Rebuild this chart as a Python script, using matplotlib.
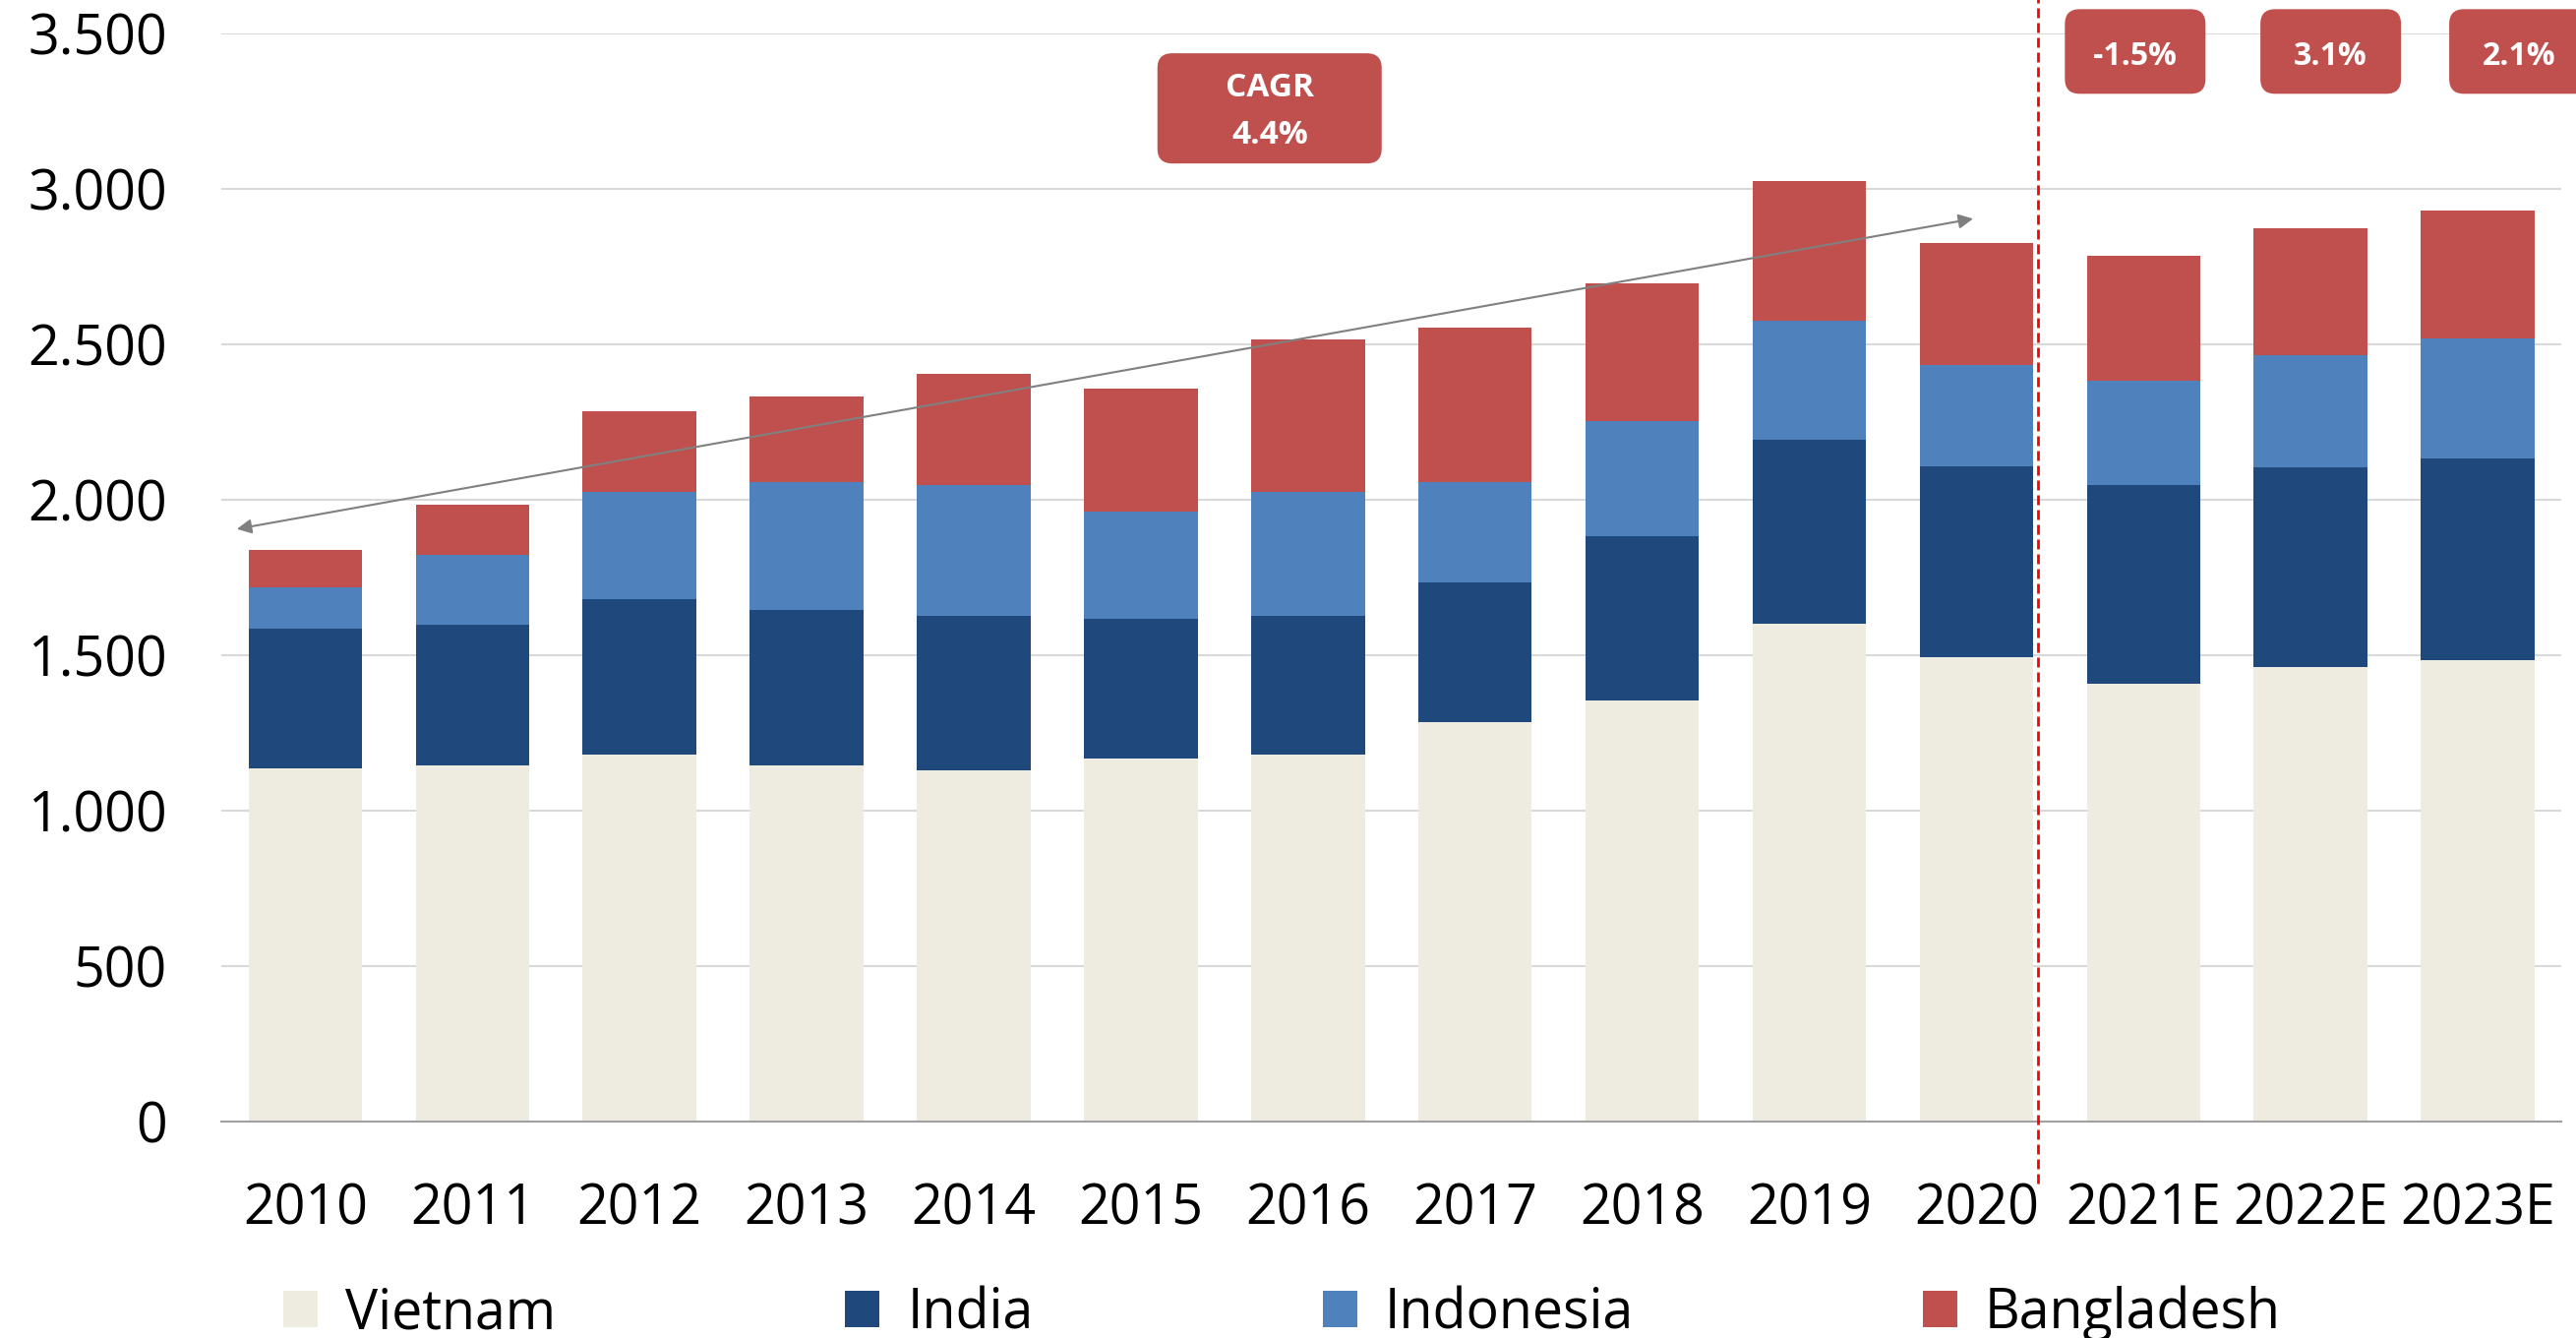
import numpy as np
import matplotlib
matplotlib.use('Agg')
import matplotlib.pyplot as plt
from matplotlib.patches import FancyBboxPatch
from matplotlib.ticker import FuncFormatter, MultipleLocator

plt.rcParams['font.family'] = ['Open Sans', 'DejaVu Sans']

# data
years = ['2010', '2011', '2012', '2013', '2014', '2015', '2016',
         '2017', '2018', '2019', '2020', '2021E', '2022E', '2023E']
vietnam = [1137, 1147, 1179, 1147, 1131, 1168, 1179, 1285, 1353, 1602, 1493, 1408, 1461, 1484]
india = [449, 450, 502, 497, 497, 450, 449, 449, 529, 592, 613, 638, 644, 648]
indonesia = [132, 227, 344, 413, 418, 343, 397, 323, 370, 381, 327, 338, 360, 387]
bangladesh = [122, 159, 259, 275, 360, 397, 492, 497, 444, 449, 393, 400, 407, 412]
growth_labels = ['-1.5%', '3.1%', '2.1%']
cagr_label = 'CAGR\n4.4%'

series = [('Vietnam', vietnam, '#EEECE1'),
          ('India', india, '#1F497D'),
          ('Indonesia', indonesia, '#4F81BD'),
          ('Bangladesh', bangladesh, '#C0504D')]
RED = '#C0504D'


def label_box(fig, ax, x, y, w, h, text, fs, ls=1.2, dy=0):
    # rounded box sized in inches, centred on a data point
    cx, cy = ax.transData.transform((x, y)) / fig.dpi
    box = FancyBboxPatch((cx - w / 2, cy - h / 2), w, h,
                         boxstyle='round,pad=0,rounding_size=0.15',
                         transform=fig.dpi_scale_trans, fc=RED, ec='none',
                         clip_on=False, zorder=5)
    ax.add_artist(box)
    ax.text(x, y + dy, text, ha='center', va='center', color='white', fontsize=fs,
            fontweight='bold', linespacing=ls, zorder=6, clip_on=False)


fig = plt.figure(figsize=(26.19, 13.60), dpi=100)
ax = fig.add_axes([0.0861, 0.1618, 0.9082, 0.8132])

xpos = np.arange(len(years))
bottom = np.zeros(len(years))
handles = []
for name, vals, col in series:
    b = ax.bar(xpos, vals, width=0.68, bottom=bottom, color=col, label=name,
               linewidth=0, zorder=2)
    handles.append(b)
    bottom += np.array(vals)

ax.set_xlim(-0.5, len(years) - 0.5)
ax.set_ylim(0, 3500)
ax.yaxis.set_major_locator(MultipleLocator(500))
ax.yaxis.set_major_formatter(FuncFormatter(lambda v, p: f'{int(v):,}'.replace(',', '.')))
ax.set_xticks(xpos)
ax.set_xticklabels(years)
ax.tick_params(axis='both', length=0, labelsize=40)
ax.tick_params(axis='x', pad=44)
ax.tick_params(axis='y', pad=40)
ax.grid(axis='y', color='#D9D9D9', linewidth=1.5, zorder=0)
ax.set_axisbelow(True)
for s in ['top', 'right', 'left']:
    ax.spines[s].set_visible(False)
ax.spines['bottom'].set_color('#A0A0A0')
ax.spines['bottom'].set_linewidth(1.5)

# forecast split
ax.axvline(10.37, ymin=-0.057, ymax=1.04, color='#FF0000', linewidth=2,
           linestyle=(0, (3.6, 1.8)), clip_on=False, zorder=4)

# trend arrow
ax.annotate('', xy=(-0.41, 1906), xytext=(9.98, 2904),
            arrowprops=dict(arrowstyle='<|-|>', color='#808080', lw=1.5,
                            mutation_scale=22, shrinkA=0, shrinkB=0), zorder=4)

# labels
label_box(fig, ax, 5.77, 3259, 2.28, 1.12, cagr_label, 24, ls=1.6, dy=-10)
for gx, lab in zip([10.95, 12.12, 13.25], growth_labels):
    label_box(fig, ax, gx, 3442, 1.43, 0.86, lab, 23, dy=-16)

fig.legend(handles=handles, loc='center left', bbox_to_anchor=(288 / 2619, 0.018),
           ncol=4, frameon=False, fontsize=40, borderpad=0, borderaxespad=0,
           handlelength=0.63, handleheight=0.64, handletextpad=0.5, columnspacing=5.3)

fig.savefig('out.png', dpi=100)
